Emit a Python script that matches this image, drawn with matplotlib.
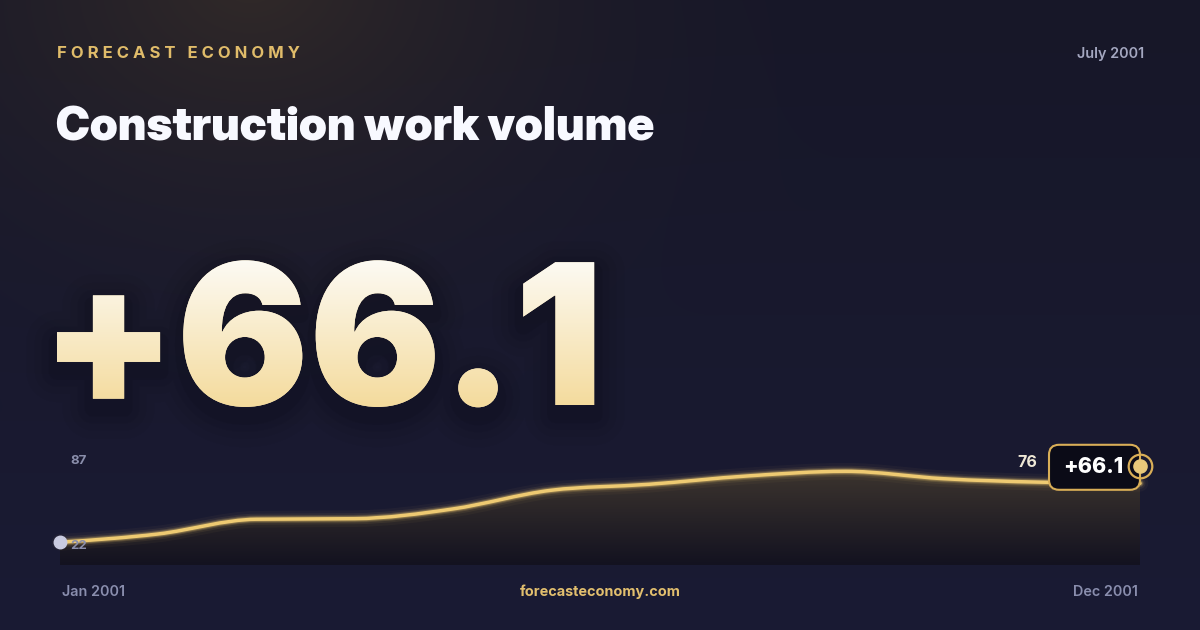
import numpy as np
import matplotlib
matplotlib.use("Agg")
import matplotlib.pyplot as plt
import matplotlib.patheffects as pe
from matplotlib.font_manager import FontProperties
from matplotlib.textpath import TextPath
from matplotlib.patches import PathPatch, FancyBboxPatch
from matplotlib.path import Path
from matplotlib.transforms import Affine2D, offset_copy, ScaledTranslation

months = ['Jan', 'Feb', 'Mar', 'Apr', 'May', 'Jun', 'Jul', 'Aug', 'Sep', 'Oct', 'Nov', 'Dec']
values = [22, 29.6, 43.1, 43.6, 52.5, 69.6, 75.1, 82.7, 87, 80.2, 77, 76]
brand = 'FORECAST ECONOMY'
title = 'Construction work volume'
headline = '+66.1'
date_label = 'July 2001'
start_label = 'Jan 2001'
end_label = 'Dec 2001'
site = 'forecasteconomy.com'

W, H, DPI = 1200, 630, 100
GOLD = '#e8c46c'
fig = plt.figure(figsize=(W / DPI, H / DPI), dpi=DPI)

# full-figure axes in pixel units for background and headline texts
bg = fig.add_axes([0, 0, 1, 1])
bg.axis('off')

# background: navy with a warm glow in the top-left
yy, xx = np.mgrid[0:H, 0:W]
t = (yy / H)[..., None]
base = np.array([23, 23, 40]) * (1 - t) + np.array([26, 27, 52]) * t
d = np.hypot(xx - 250, (yy + 20) * 1.3)
a = (np.clip(1 - d / 640, 0, 1) ** 2 * 0.85)[..., None]
img = base * (1 - a) + np.array([54, 45, 40]) * a
bg.imshow(img / 255, extent=(0, W, H, 0), aspect='auto', zorder=0, interpolation='bilinear')


def fit(s, fp, width=None, height=None):
    tp = TextPath((0, 0), s, size=100, prop=fp)
    ext = tp.get_extents()
    k = width / ext.width if width else height / ext.height
    return 100 * k, ext.x0 * k


# brand line and date
spaced = '   '.join(' '.join(w) for w in brand.split())
bg.text(57, 53, spaced, ha='left', va='center', fontsize=12, family='Inter', weight=700, color='#e0bc6a')
bg.text(1144, 54, date_label, ha='right', va='center', fontsize=10.4, family='Inter', weight=600, color='#a4a7c0')

# title
fp_title = FontProperties(family='Inter Display', weight=900)
px, lb = fit(title, fp_title, width=596)
fp_title.set_size(px * 72 / DPI)
bg.text(57 - lb, 140.5, title, ha='left', va='baseline', fontproperties=fp_title, color='#f8f9ff')

# big headline number with gradient fill
fp_big = FontProperties(family='Inter', weight=900)
px_big, lb_big = fit(headline, fp_big, height=147)
fp_big.set_size(px_big * 72 / DPI)
x0, base_y = 57 - lb_big, 405
shadow = [pe.SimpleLineShadow(offset=(0, -7), shadow_color='#05050c', alpha=al, linewidth=lw)
          for lw, al in ((44, 0.035), (32, 0.045), (22, 0.06), (12, 0.08))]
bg.text(x0, base_y, headline, ha='left', va='baseline', fontproperties=fp_big, color='#f6e4b4',
        path_effects=shadow + [pe.Normal()], zorder=4)
tp = TextPath((0, 0), headline, size=px_big, prop=fp_big)
clip = PathPatch(tp, transform=Affine2D().scale(1, -1).translate(x0, base_y) + bg.transData,
                 fc='none', ec='none')
g = np.linspace(0, 1, 256)[:, None, None]
grad = np.array([253, 252, 248]) * (1 - g) + np.array([244, 218, 154]) * g
im = bg.imshow(grad / 255, extent=(x0 - 20, x0 + 700, base_y + 6, base_y - 152), aspect='auto',
               zorder=5, interpolation='bilinear')
im.set_clip_path(clip)
bg.set_xlim(0, W)
bg.set_ylim(H, 0)

# sparkline
ax = fig.add_axes([60 / W, (H - 565) / H, 1080 / W, 110 / H])
ax.axis('off')
x = np.arange(len(values), dtype=float)
y = np.array(values, dtype=float)
ylo, yhi = 1.2, 101.9
ax.set_xlim(x[0], x[-1])
ax.set_ylim(ylo, yhi)


def monotone(x, y):
    h = np.diff(x)
    s = np.diff(y) / h
    m = np.zeros(len(x))
    for i in range(1, len(x) - 1):
        p = (s[i - 1] * h[i] + s[i] * h[i - 1]) / (h[i - 1] + h[i])
        m[i] = (np.sign(s[i - 1]) + np.sign(s[i])) * min(abs(s[i - 1]), abs(s[i]), 0.5 * abs(p))
    m[0] = (3 * s[0] - m[1]) / 2
    m[-1] = (3 * s[-1] - m[-2]) / 2
    verts = [(x[0], y[0])]
    codes = [Path.MOVETO]
    for i in range(len(x) - 1):
        dx = h[i] / 3
        verts += [(x[i] + dx, y[i] + m[i] * dx), (x[i + 1] - dx, y[i + 1] - m[i + 1] * dx), (x[i + 1], y[i + 1])]
        codes += [Path.CURVE4] * 3
    return verts, codes


verts, codes = monotone(x, y)
area = Path(verts + [(x[-1], ylo), (x[0], ylo), (x[0], y[0])],
            codes + [Path.LINETO, Path.LINETO, Path.CLOSEPOLY])
area_patch = PathPatch(area, fc='none', ec='none')
ax.add_patch(area_patch)
g = np.linspace(0, 1, 256)[:, None, None]
fill = np.array([62, 54, 47]) * (1 - g) + np.array([19, 18, 32]) * g
fim = ax.imshow(fill / 255, extent=(x[0], x[-1], ylo, 92), aspect='auto', zorder=1,
                interpolation='bilinear')
fim.set_clip_path(area_patch)

line = Path(verts, codes)
for lw, al in ((12, 0.04), (8, 0.08), (5.5, 0.16), (4, 0.3)):
    ax.add_patch(PathPatch(line, fc='none', ec=GOLD, lw=lw, alpha=al, zorder=2, clip_on=False,
                           capstyle='round'))
ax.add_patch(PathPatch(line, fc='none', ec='#eeca72', lw=2.5, zorder=3, clip_on=False, capstyle='round'))

ax.plot(x[0], y[0], 'o', ms=9, color='#c9cbe0', zorder=6, clip_on=False)

# min / max labels
ax.annotate(f'{max(values):.0f}', xy=(x[0], max(values)), xytext=(7.2, 7.2), textcoords='offset points',
            ha='left', va='center', fontsize=9.5, family='Inter', weight=700, color='#8a8eab')
ax.annotate(f'{min(values):.0f}', xy=(x[0], min(values)), xytext=(7.2, -2.7), textcoords='offset points',
            ha='left', va='center', fontsize=9.5, family='Inter', weight=700, color='#8a8eab')

# last value and badge (badge box in inches, anchored at the last point)
ax.annotate(f'{values[-1]:.0f}', xy=(x[-1], y[-1]), xytext=(-74, 15), textcoords='offset points',
            ha='right', va='center', fontsize=11.5, family='Inter', weight=700, color='#efe8d6',
            annotation_clip=False)
end_tr = fig.dpi_scale_trans + ScaledTranslation(x[-1], y[-1], ax.transData)
ax.add_patch(FancyBboxPatch((-0.91, -0.065), 0.91, 0.45, boxstyle='round,pad=0,rounding_size=0.1',
                            transform=end_tr, fc='#0b0b17', ec='#d9ae57', lw=1.5, zorder=7, clip_on=False))
ax.annotate(headline, xy=(x[-1], y[-1]), xytext=(-33.5, 11.5), textcoords='offset points',
            ha='center', va='center', fontsize=15.5, family='Inter', weight=800, color='white',
            zorder=7.5, annotation_clip=False)
tr = offset_copy(ax.transData, fig=fig, x=0, y=12.5, units='points')
ax.plot(x[-1], y[-1], 'o', transform=tr, ms=17, mfc='none', mec='#d9ae57', mew=1.6, zorder=8, clip_on=False)
ax.plot(x[-1], y[-1], 'o', transform=tr, ms=9.5, color='#e8c87a', zorder=9, clip_on=False)

# footer
ax.text(0.002, -0.245, start_label, transform=ax.transAxes, ha='left', va='center', fontsize=10.4,
        family='Inter', weight=600, color='#8a8eae')
ax.text(0.998, -0.245, end_label, transform=ax.transAxes, ha='right', va='center', fontsize=10.4,
        family='Inter', weight=600, color='#8a8eae')
ax.text(0.5, -0.245, site, transform=ax.transAxes, ha='center', va='center', fontsize=10.4,
        family='Inter', weight=700, color='#e2bf6e')

fig.savefig('out.png', dpi=DPI)
